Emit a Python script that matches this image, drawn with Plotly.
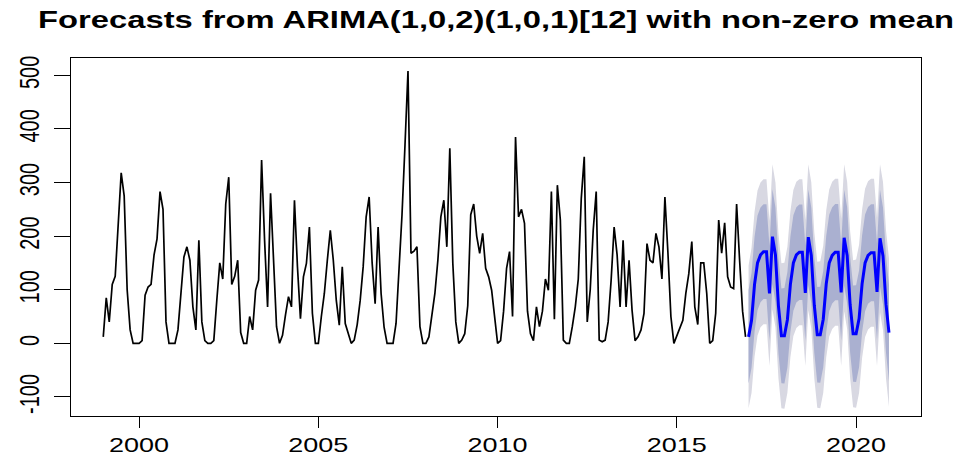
import plotly.graph_objects as go

# Monthly history, Jan 1999 - Dec 2016
y1999 = [12, 85, 40, 110, 125, 220, 318, 275, 100, 25, 0, 0]
y2000 = [0, 5, 90, 105, 110, 165, 195, 283, 250, 40, 0, 0]
y2001 = [0, 25, 99, 161, 180, 155, 68, 25, 192, 40, 5, 0]
y2002 = [0, 5, 80, 150, 120, 260, 310, 110, 125, 155, 20, 0]
y2003 = [0, 50, 25, 99, 118, 342, 192, 68, 280, 149, 31, 0]
y2004 = [15, 53, 87, 68, 267, 143, 46, 124, 149, 217, 56, 0]
y2005 = [0, 50, 93, 155, 211, 155, 80, 34, 143, 37, 18, 0]
y2006 = [6, 35, 80, 143, 236, 273, 150, 74, 217, 93, 30, 0]
y2007 = [0, 0, 37, 140, 240, 370, 508, 168, 172, 180, 31, 0]
y2008 = [0, 12, 55, 93, 155, 236, 267, 180, 364, 150, 40, 0]
y2009 = [6, 18, 70, 240, 260, 200, 168, 205, 140, 124, 99, 43]
y2010 = [0, 5, 60, 140, 171, 50, 385, 236, 250, 224, 60, 18]
y2011 = [5, 68, 31, 60, 120, 99, 283, 45, 295, 230, 6, 0]
y2012 = [0, 31, 68, 120, 270, 348, 40, 100, 211, 283, 6, 3]
y2013 = [6, 40, 118, 217, 165, 68, 192, 68, 155, 62, 5, 12]
y2014 = [25, 56, 186, 155, 150, 205, 180, 120, 273, 170, 50, 0]
y2015 = [15, 28, 43, 93, 130, 190, 68, 35, 150, 150, 93, 0]
y2016 = [5, 56, 230, 168, 225, 124, 105, 102, 260, 155, 60, 12]

# Point forecasts, Jan 2017 - Dec 2020
fc2017 = [12, 43, 110, 150, 165, 171, 171, 93, 199, 165, 70, 14]
fc2018 = [14, 44, 110, 150, 165, 170, 170, 94, 198, 164, 71, 16]
fc2019 = [16, 45, 111, 150, 164, 170, 170, 95, 197, 164, 72, 18]
fc2020 = [18, 46, 111, 150, 164, 169, 169, 96, 196, 163, 73, 20]

# Forecast standard errors per horizon
se2017 = [68, 69, 69, 69, 69, 69, 69, 69, 69, 69, 69, 69]
se2018 = [69.5, 69.5, 69.5, 69.5, 69.5, 69.5, 69.5, 69.5, 69.5, 69.5, 69.5, 69.5]
se2019 = [70, 70, 70, 70, 70, 70, 70, 70, 70, 70, 70, 70]
se2020 = [70.5, 70.5, 70.5, 70.5, 70.5, 70.5, 70.5, 70.5, 70.5, 70.5, 70.5, 70.5]

levels = {80: 1.2816, 95: 1.96}
x_ticks = [2000, 2005, 2010, 2015, 2020]
y_ticks = [-100, 0, 100, 200, 300, 400, 500]
title_text = "Forecasts from ARIMA(1,0,2)(1,0,1)[12] with non-zero mean"

history = (y1999 + y2000 + y2001 + y2002 + y2003 + y2004 + y2005 + y2006 + y2007
           + y2008 + y2009 + y2010 + y2011 + y2012 + y2013 + y2014 + y2015 + y2016)
fmean = fc2017 + fc2018 + fc2019 + fc2020
fse = se2017 + se2018 + se2019 + se2020

hx = [1999 + i / 12 for i in range(len(history))]
fx = [2017 + i / 12 for i in range(len(fmean))]

FONT = "Liberation Sans, Arial, sans-serif"
fig = go.Figure()

# prediction interval polygons: widest first
for lev, col in [(95, "#D8D8E2"), (80, "#AAB0D0")]:
    z = levels[lev]
    lo = [m - z * s for m, s in zip(fmean, fse)]
    hi = [m + z * s for m, s in zip(fmean, fse)]
    fig.add_trace(go.Scatter(
        x=fx + fx[::-1], y=hi + lo[::-1], fill="toself", fillcolor=col,
        line=dict(width=0, color=col), mode="lines", hoverinfo="skip",
        showlegend=False))

fig.add_trace(go.Scatter(x=hx, y=history, mode="lines",
                         line=dict(color="black", width=1.7), showlegend=False))
fig.add_trace(go.Scatter(x=fx, y=fmean, mode="lines",
                         line=dict(color="#0000FF", width=3), showlegend=False))

axis_common = dict(showgrid=False, zeroline=False, showline=True, mirror=True,
                   linecolor="black", linewidth=1, ticks="outside",
                   tickcolor="black", tickwidth=1,
                   tickfont=dict(family=FONT, size=20, color="black"))

fig.update_layout(
    width=968, height=468,
    margin=dict(l=71, r=47, t=58, b=52),
    paper_bgcolor="white", plot_bgcolor="white",
    title=dict(text=title_text, x=0.5, xanchor="center", xref="paper",
               y=1 - 20 / 468, yref="container", yanchor="middle",
               font=dict(family=FONT, size=24, color="black", weight="bold")),
    xaxis=dict(range=[1998.10, 2021.81], tickvals=x_ticks,
               ticktext=[str(v) for v in x_ticks], ticklen=11, **axis_common),
    yaxis=dict(range=[-135.6, 532.3], tickvals=y_ticks,
               ticktext=[str(v) for v in y_ticks], ticklen=16, tickangle=-90,
               ticklabelstandoff=9, **axis_common),
)

# widen the text glyphs horizontally
stretch_js = """
(function(){
  var gd = document.getElementById('{plot_id}');
  var svg = gd.querySelector('svg.main-svg');
  var nodes = gd.querySelectorAll('text.gtitle, g.xtick > text, g.ytick > text');
  nodes.forEach(function(el){
    try {
      var SX = el.classList.contains('gtitle') ? 1.365 : 1.35;
      var r = el.getBoundingClientRect();
      var pt = svg.createSVGPoint();
      pt.x = r.left + r.width / 2; pt.y = r.top + r.height / 2;
      var p = pt.matrixTransform(el.parentNode.getScreenCTM().inverse());
      var t = el.getAttribute('transform') || '';
      el.setAttribute('transform', 'translate(' + p.x + ',' + p.y + ') scale(' + SX +
        ',1) translate(' + (-p.x) + ',' + (-p.y) + ') ' + t);
    } catch (e) {}
  });
})();
"""

fig.write_html("out.html", post_script=stretch_js)
